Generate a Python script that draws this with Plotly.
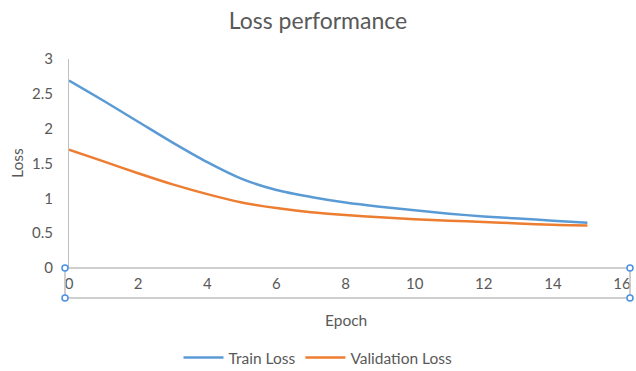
import plotly.graph_objects as go

# Loss per epoch
epochs = list(range(16))
train_loss = [2.69, 2.40, 2.10, 1.80, 1.52, 1.28, 1.12, 1.02, 0.94, 0.88, 0.83, 0.78, 0.74, 0.71, 0.68, 0.65]
val_loss = [1.70, 1.53, 1.36, 1.20, 1.06, 0.94, 0.86, 0.80, 0.76, 0.73, 0.70, 0.68, 0.66, 0.64, 0.62, 0.61]

x_ticks = list(range(0, 17, 2))
y_ticks = [0, 0.5, 1, 1.5, 2, 2.5, 3]
y_tick_text = ["0", "0.5", "1", "1.5", "2", "2.5", "3"]

FONT = "Lato"
TEXT = "#595959"
AXIS = "#bfbfbf"
HANDLE = "#4a90e2"

fig = go.Figure()
fig.add_trace(go.Scatter(x=epochs, y=train_loss, mode="lines", name="Train Loss",
                         line=dict(color="#5B9BD5", width=2.5, shape="spline", smoothing=0.8)))
fig.add_trace(go.Scatter(x=epochs, y=val_loss, mode="lines", name="Validation Loss",
                         line=dict(color="#ED7D31", width=2.5, shape="spline", smoothing=0.8)))

W, H = 636, 371
L, R, T, B = 69, 14, 59, 103
pw, ph = W - L - R, H - T - B

def px(x):
    return (x - L) / pw

def py(y):
    return (H - B - y) / ph

# selected-axis frame around the horizontal axis labels
bx0, bx1 = px(65), px(630)
by0, by1 = py(268), py(298)
shapes = [
    dict(type="line", xref="paper", yref="paper", x0=bx0, x1=bx1, y0=by0, y1=by0,
         line=dict(color=AXIS, width=1.5)),
    dict(type="line", xref="paper", yref="paper", x0=bx0, x1=bx1, y0=by1, y1=by1,
         line=dict(color=AXIS, width=1.5)),
    dict(type="line", xref="paper", yref="paper", x0=bx0, x1=bx0, y0=by0, y1=by1,
         line=dict(color=AXIS, width=1.5)),
    dict(type="line", xref="paper", yref="paper", x0=bx1, x1=bx1, y0=by0, y1=by1,
         line=dict(color=AXIS, width=1.5)),
]
for cx in (bx0, bx1):
    for cy in (by0, by1):
        shapes.append(dict(type="circle", xref="paper", yref="paper",
                           xsizemode="pixel", ysizemode="pixel", xanchor=cx, yanchor=cy,
                           x0=-3, x1=3, y0=-3, y1=3,
                           fillcolor="white", line=dict(color=HANDLE, width=1.5)))

fig.update_layout(
    width=W, height=H,
    margin=dict(l=L, r=R, t=T, b=B, autoexpand=False),
    paper_bgcolor="white", plot_bgcolor="white",
    font=dict(family=FONT, color=TEXT, size=15),
    title=dict(text="Loss performance", x=0.5, xref="container", xanchor="center",
               y=1 - 21 / H, yref="container", yanchor="middle",
               font=dict(size=23, color=TEXT, family=FONT)),
    showlegend=True,
    legend=dict(orientation="h", xref="container", yref="container",
                x=0.5, xanchor="center", y=1 - 358 / H, yanchor="middle",
                font=dict(size=15.5, color=TEXT), itemwidth=40, tracegroupgap=0),
    shapes=shapes,
    annotations=[
        dict(text="Epoch", xref="paper", yref="paper", x=0.5, y=py(320),
             showarrow=False, font=dict(size=15.5, color=TEXT), xanchor="center", yanchor="middle"),
        dict(text="Loss", xref="paper", yref="paper", x=px(17), y=py(163), textangle=-90,
             showarrow=False, font=dict(size=15.5, color=TEXT), xanchor="center", yanchor="middle"),
    ],
)
fig.update_xaxes(range=[0, 16], tickvals=x_ticks, showgrid=False, zeroline=False,
                 showline=False, ticks="", ticklabelstandoff=5, automargin=False,
                 tickfont=dict(size=15, color=TEXT))
fig.update_yaxes(range=[0, 3], tickvals=y_ticks, ticktext=y_tick_text, showgrid=False,
                 zeroline=False, showline=True, linecolor=AXIS, linewidth=1, ticks="",
                 ticklabelstandoff=12, automargin=False, tickfont=dict(size=15, color=TEXT))

fig.write_html("out.html")
